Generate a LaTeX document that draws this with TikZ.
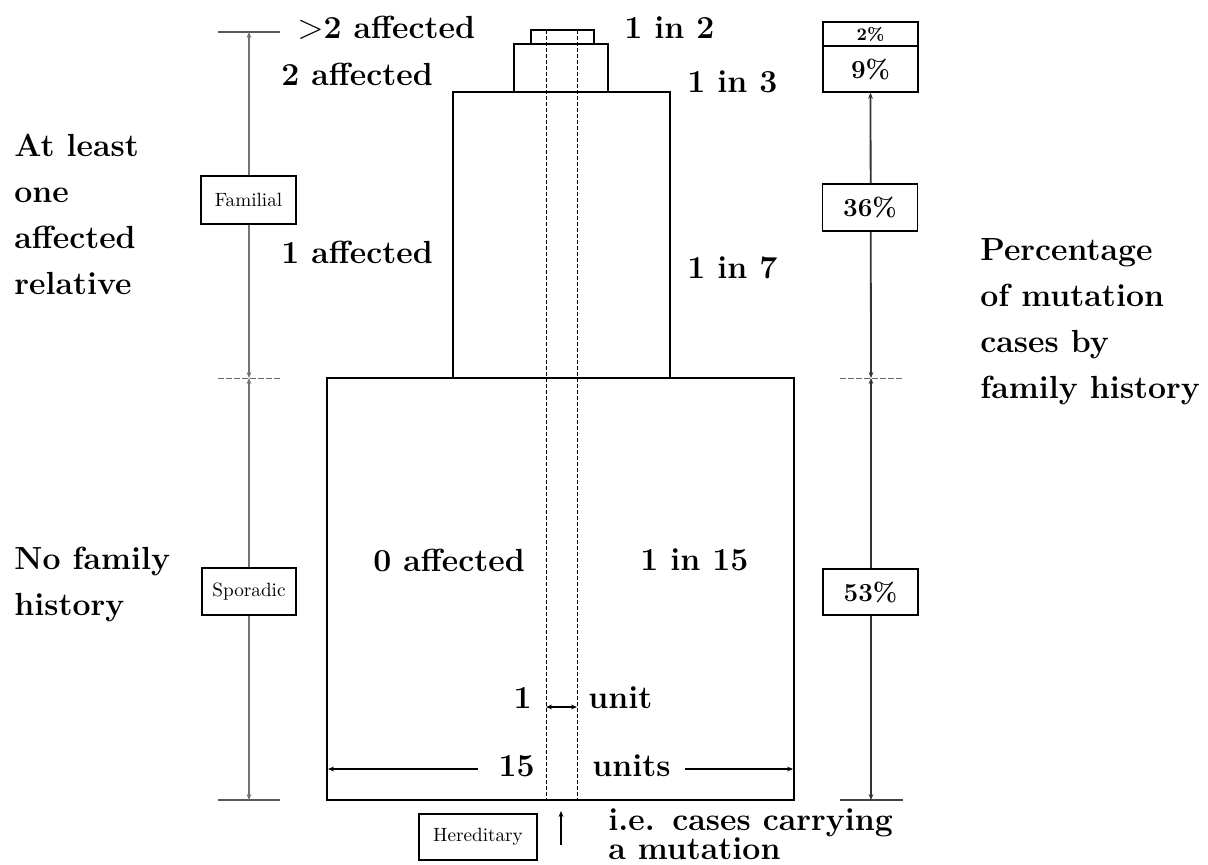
\documentclass[tikz,border=0pt]{standalone}
\usetikzlibrary{arrows.meta}
\begin{document}
\begin{tikzpicture}[x=0.5pt,y=-0.5pt,
  lbl/.style={font=\fontsize{16}{18}\selectfont\bfseries, inner sep=0pt},
  pct/.style={draw, line width=0.7pt, font=\fontsize{13}{15}\selectfont\bfseries, minimum width=47.5pt, inner sep=0pt},
  tag/.style={draw, line width=0.7pt, fill=white, font=\fontsize{9.6}{11}\selectfont, inner sep=0pt},
  blk/.style={draw, line width=0.8pt},
  guide/.style={draw, thin, dash pattern=on 2pt off 1pt},
  scl/.style={line width=0.9pt, draw=black!80},
  sclL/.style={line width=1.2pt, draw=black!55},
  tick/.style={thin, draw=black!60, dash pattern=on 3pt off 1pt},
  tip/.style={{Stealth[length=3pt,width=2.4pt]}-{Stealth[length=3pt,width=2.4pt]}},
  dim/.style={-{Stealth[length=3pt,width=2.4pt]}, line width=0.6pt},
  dimb/.style={{Stealth[length=3pt,width=2.4pt]}-{Stealth[length=3pt,width=2.4pt]}, line width=0.6pt}]
\useasboundingbox (0,0) rectangle (1208,865);

% stepped blocks
\draw[blk] (327,378) rectangle (794,800);
\draw[blk] (453,92) rectangle (670,378);
\draw[blk] (514,44) rectangle (608,92);
\draw[blk] (531,30) rectangle (594,44);
% guide lines (1 unit)
\draw[guide] (546,30) -- (546,800);
\draw[guide] (577,30) -- (577,800);

% left scale
\coordinate (LT) at (249,32);
\coordinate (LM) at (249,378);
\coordinate (LB) at (249,800);
\draw[line width=1pt, draw=black!65] (218,32) -- (280,32);
\draw[tick] (218,378) -- (280,378);
\draw[line width=1pt, draw=black!65] (218,800) -- (280,800);
\draw[sclL, tip] (LT) -- (LM);
\draw[sclL, tip] (LM) -- (LB);
\node[tag, minimum width=47.5pt, minimum height=24pt] (fam) at (248.5,200) {Familial};
\node[tag, minimum width=47pt, minimum height=23.5pt] (spo) at (249,591.5) {Sporadic};

% right scale
\node[pct, minimum height=12pt, font=\fontsize{8.8}{10}\selectfont\bfseries] (p2) at (870.5,34) {2\%};
\node[pct, minimum height=23pt] (p9) at (870.5,69) {9\%};
\coordinate (RM) at (871,378);
\coordinate (RB) at (871,800);
\draw[tick] (840,378) -- (903,378);
\draw[line width=1pt, draw=black!75] (840,800) -- (903,800);
\draw[scl, tip] (p9.south) -- (RM);
\draw[scl, tip] (RM) -- (RB);
\node[pct, fill=white, minimum height=23.5pt] (p36) at (870,207.5) {36\%};
\node[pct, fill=white, minimum height=23pt] (p53) at (870.5,592) {53\%};

% block labels
\node[lbl, anchor=west] (t1) at (297,28) {$>$2 affected};
\node[lbl, anchor=west] (t2) at (624,28) {1 in 2};
\node[lbl, anchor=west] (t3) at (281,74) {2 affected};
\node[lbl, anchor=west] (t4) at (687,82) {1 in 3};
\node[lbl, anchor=west] (t5) at (281,252) {1 affected};
\node[lbl, anchor=west] (t6) at (687,268) {1 in 7};
\node[lbl, anchor=west] (t7) at (373,560) {0 affected};
\node[lbl, anchor=west] (t8) at (640,560) {1 in 15};

% unit dimensions
\node[lbl, anchor=east] (one) at (532,698) {1};
\node[lbl, anchor=west] (unit) at (588,698) {unit};
\coordinate (ua) at (546,707);
\coordinate (ub) at (577,707);
\draw[dimb] (ua) -- (ub);
\node[lbl, anchor=east] (fif) at (535,766) {15};
\node[lbl, anchor=west] (units) at (592,766) {units};
\coordinate (wl) at (328,769);
\coordinate (wr) at (793,769);
\draw[dim] (478,769) -- (wl);
\draw[dim] (685,769) -- (wr);

% hereditary
\node[tag, minimum width=59pt, minimum height=23pt] (her) at (478,837) {Hereditary};
\coordinate (ha) at (561,845);
\coordinate (hb) at (561,811);
\draw[dim] (ha) -- (hb);
\node[lbl, anchor=west] (ie1) at (608,823) {i.e.\hspace{0.55em}cases carrying};
\node[lbl, anchor=west] (ie2) at (608,849) {a mutation};

% side texts
\node[lbl, anchor=west, align=left] (lefttop) at (14,214) {At least\\[5pt]one\\[5pt]affected\\[5pt]relative};
\node[lbl, anchor=west, align=left] (leftbot) at (14,584) {No family\\[5pt]history};
\node[lbl, anchor=west, align=left] (right) at (980,322) {Percentage\\[5pt]of mutation\\[5pt]cases by\\[5pt]family history};
\end{tikzpicture}
\end{document}
